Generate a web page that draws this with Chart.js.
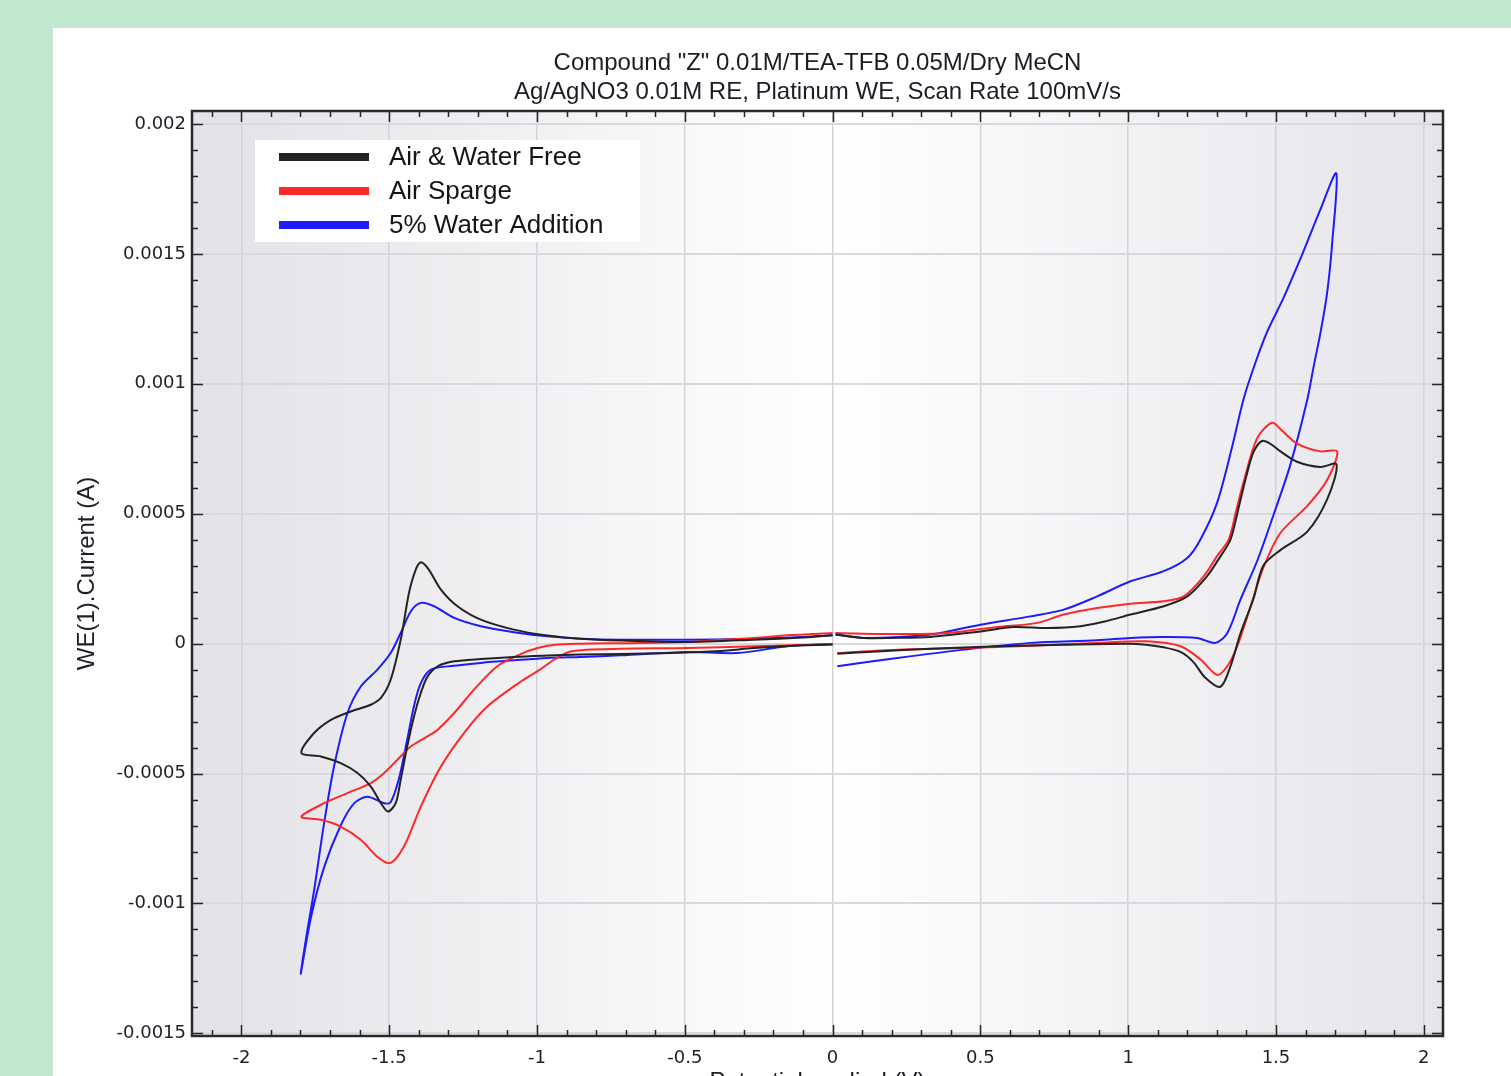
<!DOCTYPE html>
<html>
<head>
<meta charset="utf-8">
<title>Cyclic voltammetry</title>
<script src="https://cdn.jsdelivr.net/npm/chart.js@4.4.0/dist/chart.umd.min.js"></script>
<style>
html, body { margin:0; padding:0; overflow:hidden; background:#c0e8ce; }
#panel { position:absolute; left:53px; top:28px; width:1458px; height:1080px; background:#fff; }
canvas { display:block; }
</style>
</head>
<body>
<div id="panel"><canvas id="cv" width="1458" height="1080"></canvas></div>
<script>
var titleLines = ['Compound "Z" 0.01M/TEA-TFB 0.05M/Dry MeCN', 'Ag/AgNO3 0.01M RE, Platinum WE, Scan Rate 100mV/s'];
var seriesNames = ['Air & Water Free', 'Air Sparge', '5% Water Addition'];

// Air & Water Free (potential V, current A), scan order, gap at 0 V
var freeX = [
  0.01, 0.106, 0.2, 0.331, 0.5, 0.613, 0.726, 0.838, 0.92, 1.008, 1.12, 1.2, 1.267, 1.312, 1.346, 1.375, 1.403, 1.425, 1.453, 1.48, 1.515, 1.571, 1.65, 1.705,
  1.673, 1.605, 1.515, 1.457, 1.423, 1.38, 1.346, 1.312, 1.26, 1.22, 1.177, 1.12, 1.06, 1.0, 0.782, 0.557, 0.331, 0.15, 0.016,
  0.005,
  0, -0.1, -0.266, -0.379, -0.55, -0.717, -0.852, -0.965, -1.078, -1.19, -1.28, -1.336, -1.37, -1.393, -1.416, -1.439, -1.461, -1.478, -1.504, -1.528, -1.562, -1.607, -1.664, -1.731, -1.797,
  -1.754, -1.697, -1.63, -1.562, -1.528, -1.495, -1.461, -1.433, -1.41, -1.392, -1.366, -1.325, -1.269, -1.19, -1.078, -0.965, -0.852, -0.717, -0.491, -0.266, -0.097, 0
];
var freeY = [
  0.000035, 0.000022, 0.000022, 0.000026, 0.000047, 0.000064, 0.00006, 0.000067, 0.000085, 0.000112, 0.000144, 0.000182, 0.00026, 0.000336, 0.0004, 0.00053, 0.00066, 0.00074, 0.00078, 0.00077, 0.00074, 0.0007, 0.00068, 0.00069,
  0.000555, 0.00043, 0.00036, 0.0003, 0.00017, 0.00004, -0.000087, -0.000166, -0.00013, -0.00007, -0.000032, -0.000014, -0.000004, 0, -0.000004, -0.00001, -0.00002, -0.00003, -0.000039,
  null,
  -0.000003, -0.000006, -0.000017, -0.000028, -0.000036, -0.00004, -0.000042, -0.000046, -0.000051, -0.000059, -0.000068, -0.000087, -0.000126, -0.00019, -0.00028, -0.000396, -0.000524, -0.000614, -0.000646, -0.000614, -0.00055, -0.000498, -0.00046, -0.000434, -0.000421,
  -0.000344, -0.000293, -0.000261, -0.000235, -0.000209, -0.000139, 0.000015, 0.000195, 0.000285, 0.000313, 0.000285, 0.000208, 0.000144, 0.0000925, 0.000054, 0.000031, 0.000019, 0.000012, 0.0000065, 0.000015, 0.000024, 0.000032
];

// Air Sparge
var spargeX = [
  0.01, 0.219, 0.388, 0.557, 0.692, 0.782, 0.895, 1.008, 1.12, 1.188, 1.256, 1.3, 1.34, 1.365, 1.39, 1.436, 1.487, 1.52, 1.571, 1.65, 1.707,
  1.673, 1.606, 1.515, 1.459, 1.414, 1.369, 1.335, 1.301, 1.244, 1.177, 1.064, 0.895, 0.669, 0.444, 0.219, 0.016,
  0.005,
  0, -0.266, -0.491, -0.717, -0.886, -0.94, -0.99, -1.06, -1.168, -1.247, -1.325, -1.393, -1.439, -1.472, -1.5, -1.54, -1.596, -1.664, -1.731, -1.797,
  -1.72, -1.641, -1.562, -1.517, -1.472, -1.427, -1.371, -1.336, -1.28, -1.213, -1.134, -1.055, -0.998, -0.94, -0.852, -0.717, -0.491, -0.379, -0.266, -0.153, 0
];
var spargeY = [
  0.000041, 0.000037, 0.000041, 0.000064, 0.00008, 0.000112, 0.000137, 0.000154, 0.000163, 0.000182, 0.00026, 0.000336, 0.0004, 0.00051, 0.00062, 0.00079, 0.00085, 0.00082, 0.00077, 0.00074, 0.00074,
  0.00063, 0.00053, 0.000426, 0.000297, 0.000143, -0.00001, -0.000087, -0.00012, -0.00006, -0.00001, 0.000009, 0.000003, -0.000008, -0.000017, -0.000023, -0.000036,
  null,
  -0.000002, -0.00001, -0.000017, -0.00002, -0.00003, -0.00006, -0.0001, -0.00015, -0.000242, -0.000344, -0.000473, -0.000627, -0.000755, -0.00082, -0.000845, -0.00082, -0.000755, -0.000704, -0.000678, -0.000666,
  -0.000614, -0.000575, -0.000537, -0.000498, -0.000447, -0.000396, -0.000357, -0.000331, -0.000267, -0.000177, -0.000087, -0.00004, -0.000017, -0.000004, 0, 0.000002, 0.000006, 0.000015, 0.000022, 0.000032, 0.000041
];

// 5% Water Addition
var waterX = [
  0.01, 0.106, 0.331, 0.5, 0.669, 0.782, 0.895, 1.008, 1.12, 1.2, 1.244, 1.3, 1.35, 1.39, 1.43, 1.47, 1.525, 1.593, 1.65, 1.704,
  1.69, 1.673, 1.651, 1.628, 1.606, 1.549, 1.493, 1.437, 1.38, 1.335, 1.295, 1.233, 1.12, 1.008, 0.895, 0.67, 0.444, 0.219, 0.016,
  0.005,
  0, -0.153, -0.322, -0.491, -0.717, -0.852, -0.965, -1.078, -1.19, -1.28, -1.359, -1.393, -1.416, -1.439, -1.467, -1.495, -1.517, -1.573, -1.618, -1.664, -1.72, -1.764, -1.799,
  -1.782, -1.754, -1.72, -1.686, -1.641, -1.596, -1.54, -1.495, -1.461, -1.427, -1.393, -1.348, -1.28, -1.19, -1.078, -0.965, -0.852, -0.717, -0.57, -0.3, -0.1, 0
];
var waterY = [
  0.000035, 0.000022, 0.000035, 0.000073, 0.000105, 0.000131, 0.000182, 0.00024, 0.000279, 0.00033, 0.0004, 0.00054, 0.00075, 0.00094, 0.00108, 0.0012, 0.00133, 0.00151, 0.00167, 0.00181,
  0.00154, 0.00135, 0.0012, 0.00107, 0.00094, 0.00069, 0.0005, 0.00032, 0.00017, 0.00004, 0.000003, 0.000022, 0.000026, 0.000022, 0.000013, 0.000003, -0.000023, -0.000055, -0.000087,
  null,
  -0.000001, -0.00001, -0.000036, -0.000032, -0.000045, -0.000051, -0.000055, -0.000064, -0.000074, -0.000085, -0.0001, -0.000152, -0.00024, -0.00037, -0.00052, -0.00061, -0.000614, -0.000589, -0.000614, -0.0007, -0.00086, -0.00105, -0.00127,
  -0.00114, -0.00095, -0.00069, -0.00047, -0.000267, -0.000165, -0.0001, -0.000036, 0.000041, 0.000124, 0.000157, 0.000144, 0.000099, 0.000067, 0.000044, 0.000028, 0.000019, 0.000015, 0.000015, 0.000018, 0.000026, 0.000032
];

var colors = ['rgb(35,35,35)', 'rgb(255,40,40)', 'rgb(28,28,255)'];

function pts(xs, ys) {
  return xs.map(function (x, i) { return { x: x, y: ys[i] }; });
}
function fmt(v) {
  return String(Math.round(v * 1e6) / 1e6);
}

var bgPlugin = {
  id: 'bg',
  beforeDraw: function (chart) {
    var ctx = chart.ctx, a = chart.chartArea;
    var z = (chart.scales.x.getPixelForValue(0) - a.left) / (a.right - a.left);
    var g = ctx.createLinearGradient(a.left, 0, a.right, 0);
    g.addColorStop(0, '#e2e2e7');
    g.addColorStop(z, '#ffffff');
    g.addColorStop(1, '#e5e5ea');
    ctx.save();
    ctx.fillStyle = g;
    ctx.fillRect(a.left, a.top, a.right - a.left, a.bottom - a.top);
    ctx.restore();
  }
};

// frame with inward ticks on all four sides
var framePlugin = {
  id: 'frame',
  afterDatasetsDraw: function (chart) {
    var ctx = chart.ctx, a = chart.chartArea, xs = chart.scales.x, ys = chart.scales.y;
    ctx.save();
    ctx.strokeStyle = '#262626';
    ctx.lineWidth = 1.5;
    ctx.beginPath();
    for (var i = -21; i <= 20; i++) {
      var px = Math.round(xs.getPixelForValue(i / 10)) + 0.5;
      var len = (i % 5 === 0) ? 11 : 6;
      ctx.moveTo(px, a.bottom); ctx.lineTo(px, a.bottom - len);
      ctx.moveTo(px, a.top); ctx.lineTo(px, a.top + len);
    }
    for (var j = -15; j <= 20; j++) {
      var py = Math.round(ys.getPixelForValue(j / 10000)) + 0.5;
      var l2 = (j % 5 === 0) ? 11 : 6;
      ctx.moveTo(a.left, py); ctx.lineTo(a.left + l2, py);
      ctx.moveTo(a.right, py); ctx.lineTo(a.right - l2, py);
    }
    ctx.stroke();
    ctx.lineWidth = 2.5;
    ctx.strokeStyle = '#2a2a2a';
    ctx.strokeRect(a.left, a.top, a.right - a.left, a.bottom - a.top);
    ctx.restore();
  }
};

var legendPlugin = {
  id: 'boxLegend',
  afterDraw: function (chart) {
    var ctx = chart.ctx, a = chart.chartArea;
    var bx = a.left + 63, by = a.top + 29;
    ctx.save();
    ctx.fillStyle = '#ffffff';
    ctx.fillRect(bx, by, 385, 102);
    ctx.font = '26px "Liberation Sans", Arial, sans-serif';
    ctx.textBaseline = 'middle';
    chart.data.datasets.forEach(function (d, i) {
      var y = by + 17 + 34 * i;
      ctx.strokeStyle = d.borderColor;
      ctx.lineWidth = 8;
      ctx.beginPath();
      ctx.moveTo(bx + 24, y);
      ctx.lineTo(bx + 114, y);
      ctx.stroke();
      ctx.fillStyle = '#151515';
      ctx.fillText(d.label, bx + 134, y + 1);
    });
    ctx.restore();
  }
};

function series(i, xs, ys) {
  return {
    label: seriesNames[i],
    data: pts(xs, ys),
    showLine: true,
    spanGaps: false,
    borderColor: colors[i],
    backgroundColor: colors[i],
    borderWidth: 2,
    pointRadius: 0,
    tension: 0.3
  };
}

var tickFont = { family: 'DejaVu Sans', size: 18 };

new Chart(document.getElementById('cv'), {
  type: 'scatter',
  data: {
    datasets: [
      series(0, freeX, freeY),
      series(1, spargeX, spargeY),
      series(2, waterX, waterY)
    ]
  },
  options: {
    responsive: false,
    animation: false,
    layout: { padding: { left: 0, right: 68, top: 0, bottom: 0 } },
    plugins: {
      legend: { display: false },
      tooltip: { enabled: false },
      title: {
        display: true,
        text: titleLines,
        fullSize: false,
        color: '#1c1c26',
        font: { family: 'Liberation Sans', size: 24, weight: 'normal', lineHeight: 1.2 },
        padding: { top: 20.8, bottom: 4.6 }
      }
    },
    scales: {
      x: {
        type: 'linear',
        min: -2.167,
        max: 2.065,
        afterFit: function (s) { s.height = 72; },
        ticks: { stepSize: 0.5, includeBounds: false, padding: 12, color: '#1e1e28', font: tickFont, maxRotation: 0, autoSkip: false, callback: fmt },
        grid: { color: '#d4d4d8', lineWidth: 1.5, drawTicks: false },
        border: { display: false },
        title: {
          display: true,
          text: 'Potential applied (V)',
          color: '#1e1e28',
          font: { family: 'Liberation Sans', size: 24, lineHeight: 1.2 },
          padding: { top: 0, bottom: 11 }
        }
      },
      y: {
        type: 'linear',
        min: -0.00151,
        max: 0.00205,
        afterFit: function (s) { s.width = 139; },
        ticks: { stepSize: 0.0005, includeBounds: false, padding: 6, color: '#1e1e28', font: tickFont, callback: fmt },
        grid: { color: '#d9d9dd', lineWidth: 2, drawTicks: false },
        border: { display: false },
        title: {
          display: true,
          text: 'WE(1).Current (A)',
          color: '#1e1e28',
          font: { family: 'Liberation Sans', size: 24, lineHeight: 1.2 },
          padding: { top: 19.6, bottom: 0 }
        }
      }
    }
  },
  plugins: [bgPlugin, framePlugin, legendPlugin]
});
</script>
</body>
</html>
